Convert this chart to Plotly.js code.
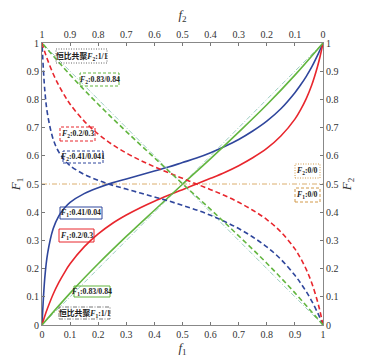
<!DOCTYPE html>
<html><head><meta charset="utf-8">
<script src="https://cdn.plot.ly/plotly-3.0.1.min.js"></script>
<style>html,body{margin:0;padding:0;background:#fff}#c{width:373px;height:362px}</style>
</head><body><div id="c"></div>
<script>
// composition grid (f1 for F1 curves, f2 for F2 curves)
const grid = [0,0.01,0.02,0.04,0.06,0.08,0.1,0.15,0.2,0.25,0.3,0.35,0.4,0.45,0.5,0.55,0.6,0.65,0.7,0.75,0.8,0.85,0.9,0.92,0.94,0.96,0.98,0.99,1];
const gridG = [0,0.1,0.2,0.3,0.4,0.5,0.6,0.7,0.8,0.9,1];
const ideal = [0,1];
const flat = [0,1];
const flatVal = [0.5,0.5];

// F1 vs f1
const blueF1 = [0,0.168,0.254,0.342,0.387,0.415,0.435,0.466,0.487,0.504,0.518,0.532,0.546,0.560,0.576,0.592,0.611,0.633,0.658,0.688,0.723,0.767,0.824,0.851,0.881,0.915,0.955,0.977,1];
const redF1 = [0,0.032,0.060,0.110,0.151,0.186,0.217,0.277,0.323,0.360,0.390,0.416,0.439,0.460,0.480,0.500,0.520,0.541,0.565,0.593,0.626,0.670,0.730,0.763,0.802,0.851,0.915,0.954,1];
const greenF1 = [0,0.113,0.217,0.314,0.407,0.499,0.590,0.684,0.781,0.886,1];
// F2 vs f2 (top axis)
const blueF2 = [0,0.023,0.045,0.085,0.119,0.149,0.176,0.233,0.277,0.312,0.342,0.367,0.389,0.408,0.424,0.440,0.454,0.468,0.482,0.496,0.513,0.534,0.565,0.585,0.613,0.658,0.746,0.832,1];
const redF2 = [0,0.046,0.085,0.149,0.198,0.237,0.270,0.330,0.374,0.407,0.435,0.459,0.480,0.500,0.520,0.540,0.561,0.584,0.610,0.640,0.677,0.723,0.783,0.814,0.849,0.890,0.940,0.968,1];
const greenF2 = [0,0.114,0.219,0.316,0.410,0.501,0.593,0.686,0.783,0.887,1];

const ticks = [0,0.1,0.2,0.3,0.4,0.5,0.6,0.7,0.8,0.9,1];
const tickText = ['0','0.1','0.2','0.3','0.4','0.5','0.6','0.7','0.8','0.9','1'];

const BLUE='#2f469c', RED='#e8262d', GREEN='#62b53f', IDEAL='#9ccdc2', ORANGE='#d29a4a';
const FONT='Liberation Serif, Times New Roman, serif';

const traces = [
  {x:flat, y:flatVal, mode:'lines', line:{color:ORANGE,width:0.8,dash:'5px,2px,1px,2px'}},
  {x:ideal, y:ideal, mode:'lines', line:{color:IDEAL,width:1,dash:'5px,2px,1px,2px'}},
  {x:ideal, y:ideal, xaxis:'x2', mode:'lines', line:{color:IDEAL,width:1,dash:'5px,2px,1px,2px'}},
  {x:grid, y:blueF1, mode:'lines', line:{color:BLUE,width:1.6,shape:'spline'}},
  {x:grid, y:redF1, mode:'lines', line:{color:RED,width:1.6,shape:'spline'}},
  {x:gridG, y:greenF1, mode:'lines', line:{color:GREEN,width:1.6,shape:'spline'}},
  {x:grid, y:blueF2, xaxis:'x2', mode:'lines', line:{color:BLUE,width:1.6,dash:'5px,3px',shape:'spline'}},
  {x:grid, y:redF2, xaxis:'x2', mode:'lines', line:{color:RED,width:1.6,dash:'5px,3px',shape:'spline'}},
  {x:gridG, y:greenF2, xaxis:'x2', mode:'lines', line:{color:GREEN,width:1.6,dash:'5px,3px',shape:'spline'}}
];

const L=42, R=323, T=43, B=325;
const px = v => (v-L)/(R-L);
const py = v => (B-v)/(B-T);
const DOT='1px,1.5px', DASH='3px,2px', DASHDOT='4px,1.5px,1px,1.5px';
const boxes = [
  {t:'恒比共聚<i>F</i><sub>2</sub>:1/1', x0:56,x1:107,y0:49,y1:63,c:'#666',d:DOT},
  {t:'<i>F</i><sub>2</sub>:0.83/0.84', x0:80,x1:119,y0:73,y1:86,c:GREEN,d:DASH},
  {t:'<i>F</i><sub>2</sub>:0.2/0.3', x0:60,x1:95,y0:127,y1:141,c:RED,d:DASH},
  {t:'<i>F</i><sub>2</sub>:0.41/0.041', x0:63,x1:103,y0:151,y1:163,c:BLUE,d:DASH},
  {t:'<i>F</i><sub>1</sub>:0.41/0.04', x0:60,x1:102,y0:207,y1:219,c:BLUE,d:'solid'},
  {t:'<i>F</i><sub>1</sub>:0.2/0.3', x0:59,x1:94,y0:229,y1:242,c:RED,d:'solid'},
  {t:'<i>F</i><sub>1</sub>:0.83/0.84', x0:74,x1:110,y0:286,y1:297,c:GREEN,d:'solid'},
  {t:'恒比共聚<i>F</i><sub>1</sub>:1/1', x0:59,x1:110,y0:307,y1:319,c:'#777',d:DASHDOT},
  {t:'<i>F</i><sub>2</sub>:0/0', x0:295,x1:320,y0:164,y1:178,c:ORANGE,d:DOT},
  {t:'<i>F</i><sub>1</sub>:0/0', x0:295,x1:320,y0:188,y1:202,c:ORANGE,d:DASH}
];
const shapes = boxes.map(b=>({type:'rect',xref:'paper',yref:'paper',x0:px(b.x0),x1:px(b.x1),y0:py(b.y1),y1:py(b.y0),line:{color:b.c,width:1,dash:b.d},layer:'above'}));
const annotations = boxes.map(b=>({xref:'paper',yref:'paper',x:px((b.x0+b.x1)/2),y:py((b.y0+b.y1)/2),text:'<b>'+b.t+'</b>',showarrow:false,font:{family:FONT+', Noto Sans CJK SC',size:7.8,color:'#222'},xanchor:'center',yanchor:'middle'}));

const axBase = {range:[0,1],tickvals:ticks,ticktext:tickText,ticks:'inside',ticklen:3,tickcolor:'#777',showline:true,linecolor:'#888',linewidth:1,showgrid:false,zeroline:false,tickfont:{family:FONT,size:10,color:'#333'},fixedrange:true};

const layout = {
  width:373,height:362,margin:{l:L,r:373-R,t:T,b:362-B},
  paper_bgcolor:'#fff',plot_bgcolor:'#fff',showlegend:false,
  xaxis:Object.assign({},axBase,{side:'bottom',title:{text:'<i>f</i><sub>1</sub>',font:{family:FONT,size:13,color:'#333'},standoff:0}}),
  xaxis2:Object.assign({},axBase,{overlaying:'x',side:'top',range:[1,0],title:{text:'<i>f</i><sub>2</sub>',font:{family:FONT,size:13,color:'#333'},standoff:6}}),
  yaxis:Object.assign({},axBase,{side:'left',title:{text:'<i>F</i><sub>1</sub>',font:{family:FONT,size:13,color:'#333'},standoff:2}}),
  yaxis2:Object.assign({},axBase,{overlaying:'y',side:'right',title:{text:'<i>F</i><sub>2</sub>',font:{family:FONT,size:13,color:'#333'},standoff:4}}),
  shapes:shapes, annotations:annotations
};
// need a trace on y2 so right axis shows
traces.push({x:[0],y:[0],yaxis:'y2',mode:'lines',line:{width:0},hoverinfo:'skip'});
Plotly.newPlot('c',traces,layout,{displayModeBar:false,staticPlot:true});
</script></body></html>
